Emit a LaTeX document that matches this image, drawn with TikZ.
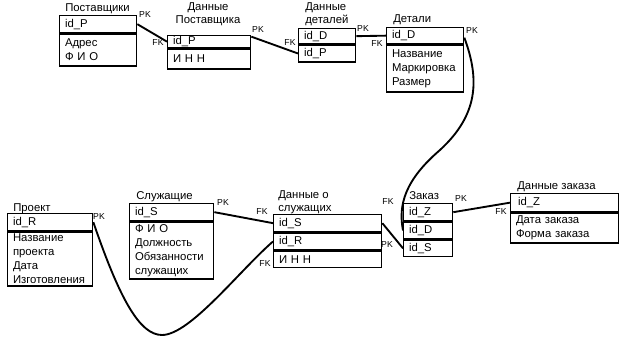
\documentclass[tikz,border=0pt]{standalone}
\usepackage{fontspec}
\setmainfont{Liberation Sans}
\usetikzlibrary{positioning}
\tikzset{
  part/.style={draw, line width=1pt, anchor=north west, align=left, inner xsep=4pt, inner ysep=0pt, font=\fontsize{8.5}{10.5}\selectfont, text width=#1},
  title/.style={anchor=north west, inner sep=0pt, align=left, font=\fontsize{8.5}{10}\selectfont},
  keylbl/.style={inner sep=0pt, font=\fontsize{6.5}{7}\selectfont},
  link/.style={line width=1.4pt}
}

\begin{document}
\begin{tikzpicture}[x=0.75pt, y=-0.75pt]
\useasboundingbox (0,0) rectangle (623,338);

% Поставщики
\node[title] (postT) at (65,3) {Поставщики};
\node[part=49.75pt, minimum height=12.75pt] (postP) at (59,15) {id\_P};
\node[part=49.75pt, minimum height=24pt, below=0pt of postP] (postA) {Адрес\\Ф И О};

% Данные Поставщика
\node[title, anchor=north, align=center] (postDT) at (208,2) {Данные\\Поставщика};
\node[part=54.25pt, minimum height=9pt] (postDP) at (167,35) {id\_P};
\node[part=54.25pt, minimum height=15pt, below=0pt of postDP] (postDA) {И Н Н};

% Данные деталей
\node[title] (detDT) at (305,2) {Данные\\деталей};
\node[part=34.75pt, minimum height=11.25pt] (detDD) at (298,28) {id\_D};
\node[part=34.75pt, minimum height=12.75pt, below=0pt of detDD] (detDP) {id\_P};

% Детали
\node[title] (detT) at (393,14) {Детали};
\node[part=49.75pt, minimum height=12pt] (detD) at (386,27) {id\_D};
\node[part=49.75pt, minimum height=35.25pt, below=0pt of detD] (detA) {Название\\Маркировка\\Размер};

% Проект
\node[title] (projT) at (13,203) {Проект};
\node[part=55.75pt, minimum height=12.75pt] (projR) at (7,213) {id\_R};
\node[part=55.75pt, minimum height=40.5pt, below=0pt of projR] (projA) {Название\\проекта\\Дата\\Изготовления};

% Служащие
\node[title] (empT) at (136,191) {Служащие};
\node[part=55pt, minimum height=12.75pt] (empS) at (129,203) {id\_S};
\node[part=55pt, minimum height=42.75pt, below=0pt of empS] (empA) {Ф И О\\Должность\\Обязанности\\служащих};

% Данные о служащих
\node[title] (empDT) at (278,190) {Данные о\\служащих};
\node[part=73pt, minimum height=12.75pt] (empDS) at (273,214) {id\_S};
\node[part=73pt, minimum height=12.75pt, below=0pt of empDS] (empDR) {id\_R};
\node[part=73pt, minimum height=12pt, below=0pt of empDR] (empDA) {И Н Н};

% Заказ
\node[title] (ordT) at (409,191) {Заказ};
\node[part=28.75pt, minimum height=12.75pt] (ordZ) at (403,203) {id\_Z};
\node[part=28.75pt, minimum height=12.75pt, below=0pt of ordZ] (ordD) {id\_D};
\node[part=28.75pt, minimum height=12pt, below=0pt of ordD] (ordS) {id\_S};

% Данные заказа
\node[title] (ordDT) at (517,181) {Данные заказа};
\node[part=73pt, minimum height=13.5pt] (ordDZ) at (510,193) {\hspace{1.5pt}id\_Z};
\node[part=73pt, minimum height=22.5pt, below=0pt of ordDZ] (ordDA) {Дата заказа\\Форма заказа};

% связи
\draw[link] (postP.east) -- (postDP.west);
\draw[link] ([yshift=3.75pt]postDP.east) -- (detDP.west);
\draw[link] (detDD.east) -- (detD.west);
\draw[link] ([yshift=-1.5pt]detD.east) .. controls (480,80) and (478,115) .. (440,150)
  .. controls (405,180) and (398,205) .. (ordD.west);
\draw[link] (projR.east) .. controls (120,300) and (140,335) .. (162,335)
  .. controls (190,335) and (240,270) .. (empDR.west);
\draw[link] (empS.east) -- (empDS.west);
\draw[link] (empDS.east) -- (ordS.west);
\draw[link] (ordZ.east) -- (ordDZ.west);

% PK / FK
\node[keylbl] (postPK) at (145,15) {PK};
\node[keylbl] (postDFK) at (158,43) {FK};
\node[keylbl] (postDPK) at (258,30) {PK};
\node[keylbl] (detDFK) at (290,43) {FK};
\node[keylbl] (detDPK) at (363,29) {PK};
\node[keylbl] (detFK) at (377,44) {FK};
\node[keylbl] (detPK) at (472,31) {PK};
\node[keylbl] (projPK) at (99,217) {PK};
\node[keylbl] (empPK) at (223,203) {PK};
\node[keylbl] (empDFK) at (262,212) {FK};
\node[keylbl] (empDFK2) at (265,264) {FK};
\node[keylbl] (empDPK) at (387,245) {PK};
\node[keylbl] (ordFK) at (388,202) {FK};
\node[keylbl] (ordPK) at (461,199) {PK};
\node[keylbl] (ordDFK) at (501,212) {FK};
\end{tikzpicture}
\end{document}
